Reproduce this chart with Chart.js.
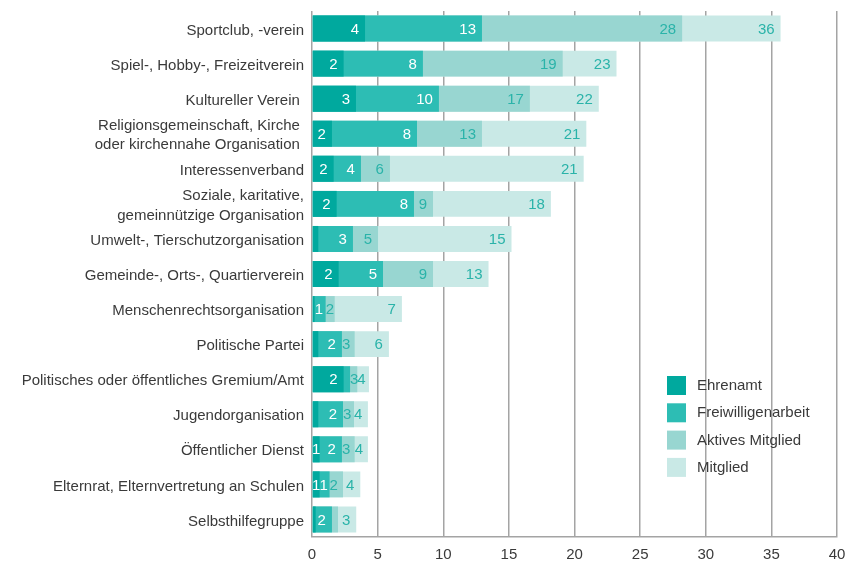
<!DOCTYPE html>
<html>
<head>
<meta charset="utf-8">
<script src="https://cdn.jsdelivr.net/npm/chart.js@4.4.0/dist/chart.umd.min.js"></script>
<style>
    body { margin: 0; background: #fff; }
    #wrap { width: 847px; height: 567px; }
</style>
</head>
<body>
<div id="wrap"><canvas id="chart" width="847" height="567"></canvas></div>
<script>
// Kategorien (mehrzeilige Labels als Arrays)
const categories = [
    'Sportclub, -verein',
    'Spiel-, Hobby-, Freizeitverein',
    'Kultureller Verein ',
    ['Religionsgemeinschaft, Kirche ', 'oder kirchennahe Organisation '],
    'Interessenverband',
    ['Soziale, karitative,', 'gemeinnützige Organisation'],
    'Umwelt-, Tierschutzorganisation',
    'Gemeinde-, Orts-, Quartierverein',
    'Menschenrechtsorganisation',
    'Politische Partei',
    'Politisches oder öffentliches Gremium/Amt',
    'Jugendorganisation',
    'Öffentlicher Dienst',
    'Elternrat, Elternvertretung an Schulen',
    'Selbsthilfegruppe'
];

// kumulierte Werte in % (Balken überlagern sich)
const ehrenamt = [4.04, 2.41, 3.35, 1.52, 1.65, 1.88, 0.48, 2.03, 0.2, 0.48, 2.41, 0.48, 0.58, 0.58, 0.28];
const freiwilligenarbeit = [12.95, 8.45, 9.67, 8.0, 3.73, 7.77, 3.12, 5.41, 1.04, 2.28, 2.9, 2.36, 2.28, 1.34, 1.52];
const aktivesMitglied = [28.2, 19.1, 16.6, 12.95, 5.94, 9.22, 5.03, 9.22, 1.73, 3.25, 3.45, 3.2, 3.25, 2.36, 1.98];
const mitglied = [35.7, 23.2, 21.85, 20.9, 20.7, 18.2, 15.2, 13.45, 6.85, 5.86, 4.34, 4.26, 4.26, 3.68, 3.37];

const xTicks = [0, 5, 10, 15, 20, 25, 30, 35, 40];

const FONT = '"Helvetica Neue", "Liberation Sans", Arial, sans-serif';
const textColor = '#3a3a3a';
const gridColor = '#a4a4a4';

// Werte-Labels am Ende jedes Balkens
const valueLabels = {
    id: 'valueLabels',
    afterDatasetsDraw(chart) {
        const ctx = chart.ctx;
        const xScale = chart.scales.x;
        ctx.save();
        ctx.font = '15px ' + FONT;
        ctx.textAlign = 'right';
        ctx.textBaseline = 'middle';
        chart.data.datasets.forEach((ds, d) => {
            const meta = chart.getDatasetMeta(d);
            meta.data.forEach((bar, i) => {
                const v = ds.data[i];
                const txt = String(Math.round(v));
                if (txt === '0') return;
                const prev = d > 0 ? chart.data.datasets[d - 1].data[i] : 0;
                const xStart = xScale.getPixelForValue(prev);
                const xEnd = bar.x;
                if (xEnd - xStart < 7) return;
                const w = ctx.measureText(txt).width;
                const x = Math.max(xEnd - 6, xStart + w);
                ctx.fillStyle = ds.labelColor;
                ctx.fillText(txt, x, bar.y + 1);
            });
        });
        ctx.restore();
    }
};

// Legende unten rechts im Diagramm
const boxLegend = {
    id: 'boxLegend',
    afterDraw(chart) {
        const ctx = chart.ctx;
        ctx.save();
        ctx.font = '15px ' + FONT;
        ctx.textAlign = 'left';
        ctx.textBaseline = 'middle';
        chart.data.datasets.forEach((ds, i) => {
            const y = 376 + i * 27.3;
            ctx.fillStyle = ds.backgroundColor;
            ctx.fillRect(667, y, 19, 19);
            ctx.fillStyle = textColor;
            ctx.fillText(ds.label, 697, y + 10);
        });
        ctx.restore();
    }
};

const ctx = document.getElementById('chart').getContext('2d');
new Chart(ctx, {
    type: 'bar',
    data: {
        labels: categories,
        datasets: [
            { label: 'Ehrenamt', data: ehrenamt, backgroundColor: '#00a99e', labelColor: '#ffffff' },
            { label: 'Freiwilligenarbeit', data: freiwilligenarbeit, backgroundColor: '#2dbdb4', labelColor: '#ffffff' },
            { label: 'Aktives Mitglied', data: aktivesMitglied, backgroundColor: '#98d6d1', labelColor: '#2ab3a9' },
            { label: 'Mitglied', data: mitglied, backgroundColor: '#c9e9e6', labelColor: '#2ab3a9' }
        ]
    },
    options: {
        indexAxis: 'y',
        responsive: false,
        animation: false,
        layout: { padding: { top: 11, right: 0, left: 0, bottom: 0 } },
        datasets: {
            bar: { categoryPercentage: 0.74, barPercentage: 1.0, borderWidth: 0 }
        },
        scales: {
            x: {
                min: 0,
                max: 40,
                afterBuildTicks: scale => { scale.ticks = xTicks.map(v => ({ value: v })); },
                afterFit: scale => {
                    scale.height = 30;
                    scale.paddingLeft = 0;
                    scale.paddingRight = 10;
                },
                ticks: { color: textColor, font: { family: FONT, size: 15 }, padding: 9 },
                grid: { color: gridColor, lineWidth: 1.5, drawTicks: false },
                border: { color: gridColor, width: 1.5 }
            },
            y: {
                stacked: true,
                afterFit: scale => {
                    scale.width = 312;
                    scale.paddingTop = 0;
                    scale.paddingBottom = 0;
                },
                ticks: {
                    autoSkip: false,
                    color: textColor,
                    font: { family: FONT, size: 15, lineHeight: 1.27 },
                    padding: 8,
                    labelOffset: 2
                },
                grid: { display: false, drawTicks: false },
                border: { display: false }
            }
        },
        plugins: {
            legend: { display: false },
            tooltip: { enabled: false }
        }
    },
    plugins: [valueLabels, boxLegend]
});
</script>
</body>
</html>
